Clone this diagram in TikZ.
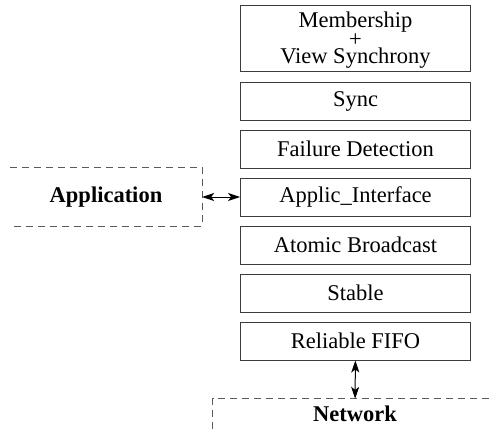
\documentclass[tikz,border=0pt]{standalone}
\usepackage{fontspec}
\setmainfont{Liberation Serif}
\usepackage{xcolor}
\usetikzlibrary{arrows.meta, positioning}
\definecolor{edge}{RGB}{60, 60, 60}
\definecolor{dashgray}{RGB}{90, 90, 90}
\tikzset{
    layer/.style={rectangle, draw=edge, line width=0.9pt, align=center, minimum width=230pt, minimum height=38pt, inner sep=0pt, font=\fontsize{22.5}{17.5}\selectfont},
    outer/.style={rectangle, align=center, inner sep=0pt, font=\fontsize{22.5}{26}\selectfont\bfseries},
    dashline/.style={draw=dashgray, line width=0.9pt, dash pattern=on 7pt off 5pt},
    biarr/.style={{Stealth[length=12pt, width=8pt, inset=3pt]}-{Stealth[length=12pt, width=8pt, inset=3pt]}, line width=1pt, black}
}
\begin{document}
\begin{tikzpicture}[x=1pt, y=-1pt]
    \useasboundingbox (0,0) rectangle (494,429);
    % protocol stack
    \node[layer, minimum height=66pt] (member) at (355.5,38) {};
    \node[layer, draw=none] (memtext) at (355.5,40.5) {Membership\\+\\View Synchrony};
    \node[layer] (sync) at (355.5,101) {Sync};
    \node[layer] (fd) at (355.5,149) {Failure Detection};
    \node[layer] (ai) at (355.5,197) {Applic\_Interface};
    \node[layer] (ab) at (355.5,245) {Atomic Broadcast};
    \node[layer] (stable) at (355.5,293) {Stable};
    \node[layer] (fifo) at (355.5,341) {Reliable FIFO};
    % outside world
    \node[outer, minimum width=192pt, minimum height=58pt] (app) at (106,197) {Application};
    \node[outer, minimum width=284pt, minimum height=30pt] (net) at (355,414) {Network};
    \draw[dashline] (app.north west) -- (app.north east) -- (app.south east) -- (app.south west);
    \draw[dashline] (net.south west) -- (net.north west) -- (net.north east);
    \draw[biarr] (app) -- (ai);
    \draw[biarr] (fifo) -- (net);
\end{tikzpicture}
\end{document}
